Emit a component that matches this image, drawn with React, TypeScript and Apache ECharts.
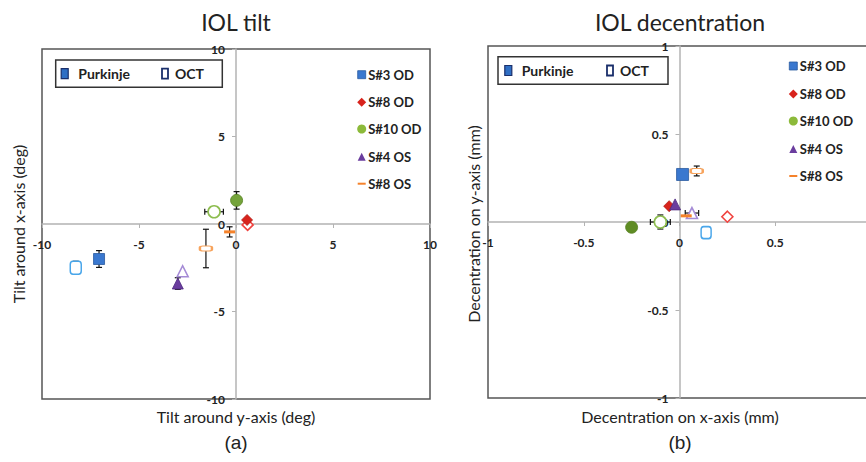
import React, { useEffect, useRef } from 'react';
import * as echarts from 'echarts';

// ---- data ----
const seriesNames = ['S#3 OD', 'S#8 OD', 'S#10 OD', 'S#4 OS', 'S#8 OS'];

// IOL tilt (deg): [x, y]
const tiltPurkinje = [[-7.06, -2.0], [0.57, 0.23], [0.03, 1.35], [-3.0, -3.4], [-0.33, -0.45]];
const tiltPurkinjeErr = [[0, 0.48], [0, 0], [0, 0.5], [0, 0.33], [0, 0.29]]; // [xErr, yErr]
const tiltOCT = [[-8.26, -2.5], [0.6, -0.05], [-1.13, 0.7], [-2.75, -2.7], [-1.55, -1.4]];
const tiltOCTErr = [[0, 0.37], [0, 0], [0.48, 0.25], [0, 0], [0, 1.1]];

// IOL decentration (mm): [x, y]
const decPurkinje = [[0.016, 0.27], [-0.054, 0.09], [-0.25, -0.03], [-0.023, 0.1], [0.035, 0.035]];
const decPurkinjeErr = [[0, 0], [0, 0], [0, 0], [0, 0], [0, 0]];
const decOCT = [[0.139, -0.06], [0.25, 0.03], [-0.1, 0.0], [0.065, 0.051], [0.09, 0.29]];
const decOCTErr = [[0, 0.02], [0, 0], [0.052, 0.04], [0.035, 0], [0.02, 0.028]];

const tiltAxis = { min: -10, max: 10, interval: 5 };
const decAxis = { min: -1, max: 1, interval: 0.5 };

const titles = ['IOL tilt', 'IOL decentration'];
const xNames = ['Tilt around y-axis (deg)', 'Decentration on x-axis (mm)'];
const yNames = ['Tilt around x-axis (deg)', 'Decentration on y-axis (mm)'];
const panelLabels = ['(a)', '(b)'];
const methodNames = ['Purkinje', 'OCT'];

// ---- styles ----
const purkColors = ['#3a78cf', '#d8231c', '#74a33a', '#6a3d9e', '#f5822a'];
const purkBorders = ['#2a5aa0', '#b01a14', '#55801f', '#4e2a80', '#f5822a'];
const purkColors2 = ['#3a78cf', '#d8231c', '#5f8c24', '#6a3d9e', '#f5822a'];
const octColors = ['#49a6ea', '#f0433f', '#8dbd4f', '#a58bd6', '#f7a35c'];
const purkSymbols = ['rect', 'diamond', 'circle', 'triangle', 'rect'];
const purkSizes = [[11, 11], [11, 11], [12, 12], [11, 11], [11, 3]];
const octSymbols = ['roundRect', 'diamond', 'circle', 'triangle', 'roundRect'];
const octSizes = [[11, 13], [11, 11], [12, 12], [11, 11], [12, 5]];
const FONT = 'Lato';

function errorRender(params: any, api: any) {
  const x = api.value(0), y = api.value(1), xe = api.value(2), ye = api.value(3);
  const style = { stroke: '#111', lineWidth: 1.2 };
  const cap = 3;
  const children: any[] = [];
  if (ye > 0) {
    const a = api.coord([x, y + ye]);
    const b = api.coord([x, y - ye]);
    children.push({ type: 'line', shape: { x1: a[0], y1: a[1], x2: b[0], y2: b[1] }, style });
    children.push({ type: 'line', shape: { x1: a[0] - cap, y1: a[1], x2: a[0] + cap, y2: a[1] }, style });
    children.push({ type: 'line', shape: { x1: b[0] - cap, y1: b[1], x2: b[0] + cap, y2: b[1] }, style });
  }
  if (xe > 0) {
    const a = api.coord([x - xe, y]);
    const b = api.coord([x + xe, y]);
    children.push({ type: 'line', shape: { x1: a[0], y1: a[1], x2: b[0], y2: b[1] }, style });
    children.push({ type: 'line', shape: { x1: a[0], y1: a[1] - cap, x2: a[0], y2: a[1] + cap }, style });
    children.push({ type: 'line', shape: { x1: b[0], y1: b[1] - cap, x2: b[0], y2: b[1] + cap }, style });
  }
  return { type: 'group', children };
}

const gridPos = [
  { left: 42, top: 49, width: 388, height: 350 },
  { left: 488, top: 46, width: 383, height: 352 },
];

function axisCommon(range: any, isX: boolean, gi: number, showMax: boolean) {
  const g = gridPos[gi];
  const zeroFrac = (0 - range.min) / (range.max - range.min);
  // shift the axis from the grid edge to the zero line of the other axis
  const offset = isX ? -(g.height * zeroFrac) : -(g.width * zeroFrac);
  return {
    type: 'value',
    gridIndex: gi,
    position: isX ? 'bottom' : 'left',
    offset,
    min: range.min,
    max: range.max,
    interval: range.interval,
    splitLine: { show: false },
    axisLine: { show: true, onZero: false, lineStyle: { color: '#b3b3b3', width: 1.5 } },
    axisTick: { show: true, length: 4, lineStyle: { color: '#b3b3b3' } },
    axisLabel: {
      show: true,
      fontFamily: FONT,
      fontSize: 12,
      fontWeight: 'bold',
      color: '#222',
      margin: isX ? 14 : 11,
      showMinLabel: true,
      showMaxLabel: showMax,
    },
  };
}

function buildGraphic() {
  const g: any[] = [];
  const titleX = [236, 680];
  const legendIconX = [361.7, 793.3];
  const legendRowsY = [[74.7, 102.3, 129, 156.7, 183.7], [66, 94, 121, 149, 176]];
  const boxes = [
    { x: 55.7, y: 60, w: 166.6, h: 27.3, m1: 64.7, t1: 78.3, m2: 165, t2: 175 },
    { x: 498, y: 56.7, w: 170, h: 27.6, m1: 508.3, t1: 521.7, m2: 610, t2: 620 },
  ];
  for (let c = 0; c < 2; c++) {
    g.push({ type: 'text', x: titleX[c], y: 22, style: { text: titles[c], font: `23px ${FONT}`, fill: '#222', textAlign: 'center', textVerticalAlign: 'middle' } });
    g.push({ type: 'text', x: titleX[c], y: 416, style: { text: xNames[c], font: `16px ${FONT}`, fill: '#222', textAlign: 'center', textVerticalAlign: 'middle' } });
    g.push({ type: 'text', x: titleX[c], y: 442, style: { text: panelLabels[c], font: `19px "Liberation Sans"`, fill: '#222', textAlign: 'center', textVerticalAlign: 'middle' } });
    const yx = c === 0 ? 18 : 473;
    g.push({ type: 'text', x: yx, y: 224, rotation: Math.PI / 2, style: { text: yNames[c], font: `16px ${FONT}`, fill: '#222', textAlign: 'center', textVerticalAlign: 'middle' } });
    // method legend box
    const b = boxes[c];
    const cy = b.y + b.h / 2;
    g.push({ type: 'rect', shape: { x: b.x, y: b.y, width: b.w, height: b.h }, style: { fill: '#fff', stroke: '#333', lineWidth: 1.5 }, z: 10 });
    g.push({ type: 'rect', shape: { x: b.m1 - 3.5, y: cy - 5, width: 7, height: 10 }, style: { fill: '#2f6fc4', stroke: '#1a2f6b', lineWidth: 1.2 }, z: 11 });
    g.push({ type: 'text', x: b.t1, y: cy, style: { text: methodNames[0], font: `bold 14px ${FONT}`, fill: '#222', textVerticalAlign: 'middle' }, z: 11 });
    g.push({ type: 'rect', shape: { x: b.m2 - 3, y: cy - 5, width: 6, height: 10 }, style: { fill: '#fff', stroke: '#1a2f6b', lineWidth: 1.8 }, z: 11 });
    g.push({ type: 'text', x: b.t2, y: cy, style: { text: methodNames[1], font: `bold 14px ${FONT}`, fill: '#222', textVerticalAlign: 'middle' }, z: 11 });
    // series legend
    const ix = legendIconX[c];
    legendRowsY[c].forEach((ry, i) => {
      const col = purkColors[i];
      if (i === 0) g.push({ type: 'rect', shape: { x: ix - 4, y: ry - 4, width: 8, height: 8 }, style: { fill: col, stroke: purkBorders[0], lineWidth: 0.8 } });
      if (i === 1) g.push({ type: 'polygon', shape: { points: [[ix, ry - 4.5], [ix + 4.5, ry], [ix, ry + 4.5], [ix - 4.5, ry]] }, style: { fill: col } });
      if (i === 2) g.push({ type: 'circle', shape: { cx: ix, cy: ry, r: 4.5 }, style: { fill: '#8cba3a' } });
      if (i === 3) g.push({ type: 'polygon', shape: { points: [[ix, ry - 4], [ix + 4, ry + 4], [ix - 4, ry + 4]] }, style: { fill: col } });
      if (i === 4) g.push({ type: 'rect', shape: { x: ix - 4, y: ry - 1, width: 8, height: 2 }, style: { fill: col } });
      g.push({ type: 'text', x: ix + 6.5, y: ry, style: { text: seriesNames[i], font: `bold 13px ${FONT}`, fill: '#222', textVerticalAlign: 'middle' } });
    });
  }
  return g;
}

function buildSeries() {
  const series: any[] = [];
  const sets = [
    { p: tiltPurkinje, pe: tiltPurkinjeErr, o: tiltOCT, oe: tiltOCTErr },
    { p: decPurkinje, pe: decPurkinjeErr, o: decOCT, oe: decOCTErr },
  ];
  sets.forEach((s, c) => {
    const errData: number[][] = [];
    seriesNames.forEach((name, i) => {
      errData.push([s.p[i][0], s.p[i][1], s.pe[i][0], s.pe[i][1]]);
      errData.push([s.o[i][0], s.o[i][1], s.oe[i][0], s.oe[i][1]]);
    });
    series.push({
      type: 'custom', xAxisIndex: c, yAxisIndex: c, renderItem: errorRender, data: errData, z: 2, silent: true,
      encode: { x: 0, y: 1 },
    });
    seriesNames.forEach((name, i) => {
      const pSize = c === 1 && i === 0 ? [12, 12] : purkSizes[i];
      const oSize = c === 1 && i === 0 ? [10, 12] : octSizes[i];
      series.push({
        type: 'scatter', name: name + ' OCT', xAxisIndex: c, yAxisIndex: c, z: 3,
        symbol: octSymbols[i], symbolSize: oSize,
        itemStyle: { color: '#fff', borderColor: octColors[i], borderWidth: 1.6, opacity: 1 },
        data: [s.o[i]],
      });
      series.push({
        type: 'scatter', name: name + ' Purkinje', xAxisIndex: c, yAxisIndex: c, z: 4,
        symbol: purkSymbols[i], symbolSize: pSize,
        itemStyle: { color: c === 1 ? purkColors2[i] : purkColors[i], borderColor: purkBorders[i], borderWidth: i === 4 ? 0 : 0.8, opacity: 1 },
        data: [s.p[i]],
      });
    });
  });
  return series;
}

export default function App() {
  const ref = useRef<HTMLDivElement>(null);
  useEffect(() => {
    if (!ref.current) return;
    const chart = echarts.init(ref.current, undefined, { renderer: 'svg' });
    chart.setOption({
      animation: false,
      backgroundColor: '#fff',
      grid: gridPos.map((p) => ({ ...p, show: true, borderColor: '#555', borderWidth: 1.5, backgroundColor: 'transparent', containLabel: false })),
      xAxis: [axisCommon(tiltAxis, true, 0, true), axisCommon(decAxis, true, 1, false)],
      yAxis: [axisCommon(tiltAxis, false, 0, true), axisCommon(decAxis, false, 1, true)],
      series: buildSeries(),
      graphic: buildGraphic(),
    });
    return () => chart.dispose();
  }, []);
  return (
    <div style={{ position: 'fixed', left: 0, top: 0, width: 866, height: 462, overflow: 'hidden', background: '#fff' }}>
      <div ref={ref} style={{ width: 880, height: 462 }} />
    </div>
  );
}
